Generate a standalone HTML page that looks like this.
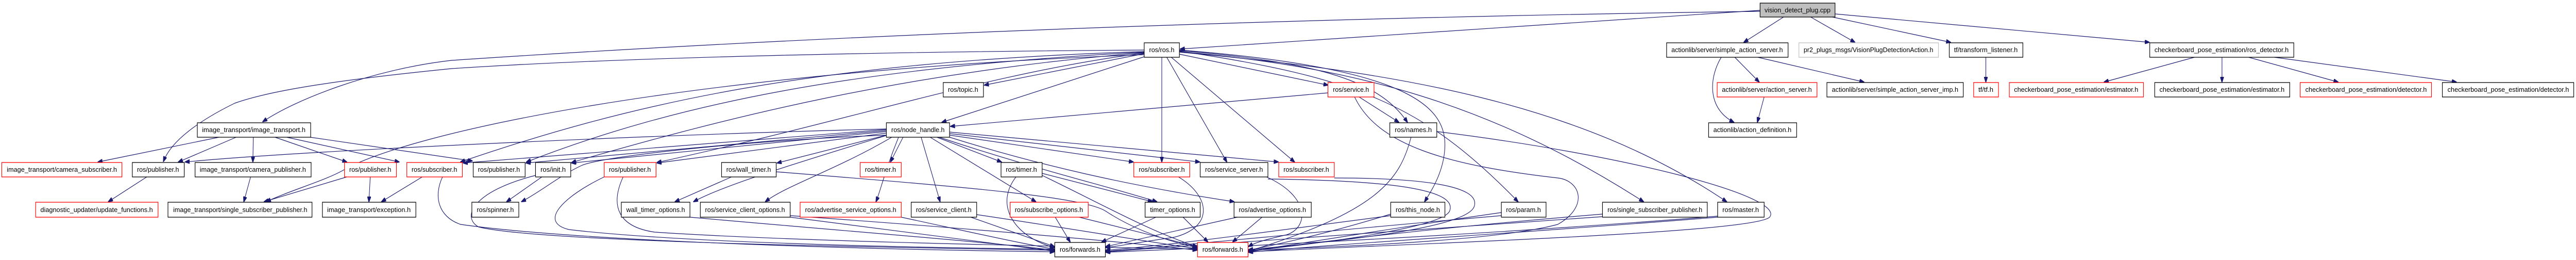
<!DOCTYPE html>
<html><head><meta charset="utf-8"><style>
html,body{margin:0;padding:0;background:#fff;width:100%;height:100%;overflow:hidden}
svg{display:block;position:absolute;left:0;top:0;width:100%;height:100%}
rect{fill:#fff;stroke:#000;stroke-width:1.3}
rect.r{stroke:#f00}
rect.g{fill:#bfbfbf}
rect.lg{stroke:#bfbfbf}
text{font-family:"Liberation Sans",sans-serif;font-size:13px;text-anchor:middle;fill:#000}
path{fill:none;stroke:#191970;stroke-width:1.2}
</style></head><body>
<svg width="100%" height="100%" viewBox="0 0 5705 504" preserveAspectRatio="none" xmlns="http://www.w3.org/2000/svg">
<defs><marker id="a" markerUnits="userSpaceOnUse" markerWidth="11" markerHeight="8" refX="10" refY="4" orient="auto"><path d="M0,0 L11,4 L0,8 z" style="fill:#191970;stroke:#191970"/></marker></defs>
<g marker-end="url(#a)">
<path d="M3898,20 L2614,95"/>
<path d="M3898,22 C2800,35 1800,70 1000,117 C820,135 650,195 582,236"/>
<path d="M3950,33 L3862,82"/>
<path d="M4010,33 L4108,82"/>
<path d="M4058,33 L4320,82"/>
<path d="M4064,27 L4760,82"/>
<path d="M3842,111 L3896,159"/>
<path d="M3812,111 C3785,150 3780,210 3840,237"/>
<path d="M3893,111 L4128,159"/>
<path d="M3907,188 L3892,237"/>
<path d="M4398,111 L4398,159"/>
<path d="M4860,111 L4660,159"/>
<path d="M4921,111 L4921,159"/>
<path d="M4980,111 L5178,159"/>
<path d="M5037,111 L5440,159"/>
<path d="M2534,104 L2180,165"/>
<path d="M2534,110 L2086,237"/>
<path d="M2612,105 L2941,165"/>
<path d="M2573,111 L2573,314"/>
<path d="M2584,111 L2717,314"/>
<path d="M2594,111 L2867,314"/>
<path d="M2612,98 C2900,120 3050,150 3117,237"/>
<path d="M2612,97 C3100,130 3200,200 3200,280 C3200,330 3170,370 3155,391"/>
<path d="M2612,99 C3000,150 3150,200 3362,391"/>
<path d="M2612,100 C3000,130 3300,200 3640,391"/>
<path d="M2612,101 C3100,140 3500,200 3824,391"/>
<path d="M2534,97 C2000,100 1400,110 1000,133 C750,155 600,175 520,200 C450,230 380,270 362,313"/>
<path d="M2534,100 C1800,120 1400,200 1020,314"/>
<path d="M2534,101 C1900,130 1500,200 1166,314"/>
<path d="M2534,102 C2000,140 1600,230 1266,315"/>
<path d="M2534,103 C2200,140 1900,230 1455,315"/>
<path d="M2534,106 C1500,140 900,260 760,330 C720,350 640,370 590,391"/>
<path d="M485,266 L217,314"/>
<path d="M523,266 L395,314"/>
<path d="M561,266 L560,314"/>
<path d="M609,266 L768,314"/>
<path d="M635,266 L884,314"/>
<path d="M687,266 L1046,312"/>
<path d="M325,343 L240,391"/>
<path d="M555,343 L540,391"/>
<path d="M768,343 L585,391"/>
<path d="M820,343 L817,391"/>
<path d="M935,343 L845,391"/>
<path d="M1200,343 L1122,391"/>
<path d="M1620,343 L1495,391"/>
<path d="M1963,250 C1500,260 700,290 410,314"/>
<path d="M1963,251 L1026,316"/>
<path d="M1963,253 L1165,316"/>
<path d="M1963,255 L1266,316"/>
<path d="M1963,258 L1455,316"/>
<path d="M1963,262 L1721,316"/>
<path d="M2000,266 L1972,314"/>
<path d="M2075,266 L2218,314"/>
<path d="M2103,262 L2510,314"/>
<path d="M2103,259 L2657,314"/>
<path d="M2103,256 L2831,314"/>
<path d="M2040,266 L2082,391"/>
<path d="M2060,266 L2294,391"/>
<path d="M2080,266 C2300,330 2450,360 2562,391"/>
<path d="M2103,266 C2300,320 2500,360 2733,391"/>
<path d="M1990,266 C1960,330 1950,370 1940,391"/>
<path d="M1975,266 C1850,330 1740,360 1695,391"/>
<path d="M1965,262 C1750,320 1600,360 1536,391"/>
<path d="M1963,262 C1700,270 1350,300 1290,320 C1240,340 1200,370 1155,391"/>
<path d="M1719,333 C2100,360 2400,380 2450,410 C2520,450 2600,470 2651,480"/>
<path d="M2308,336 L2552,391"/>
<path d="M2308,340 C2450,400 2550,450 2651,478"/>
<path d="M2250,343 C2200,400 2250,460 2335,480"/>
<path d="M2941,180 L2105,245"/>
<path d="M3010,188 L3098,237"/>
<path d="M1528,421 C1900,450 2200,470 2335,485"/>
<path d="M1750,421 C2000,450 2200,470 2335,487"/>
<path d="M1750,418 C2100,440 2450,465 2651,485"/>
<path d="M1996,421 C2150,450 2250,470 2335,483"/>
<path d="M2150,421 L2335,478"/>
<path d="M2163,416 C2350,440 2550,470 2651,482"/>
<path d="M2337,421 L2370,469"/>
<path d="M2390,421 L2651,478"/>
<path d="M2560,421 L2440,469"/>
<path d="M2620,421 L2675,469"/>
<path d="M2740,421 L2449,478"/>
<path d="M2795,421 L2730,469"/>
<path d="M2610,343 C2680,380 2690,440 2600,460 C2520,470 2470,478 2449,480"/>
<path d="M2805,343 C2900,380 2900,440 2850,455 C2800,465 2780,470 2765,478"/>
<path d="M3000,188 C3050,280 3200,320 3450,345 C3500,350 3520,400 3450,435 C3300,470 2900,480 2765,485"/>
<path d="M3125,266 C3100,350 3050,410 2765,487"/>
<path d="M3182,255 C3600,300 3950,380 3920,420 C3900,450 3200,470 2765,488"/>
<path d="M2955,345 C3150,345 3280,360 3265,400 C3250,440 3000,465 2765,484"/>
<path d="M2808,347 C3100,350 3230,370 3210,410 C3190,440 2950,470 2765,486"/>
<path d="M3080,415 C2950,450 2850,470 2765,485"/>
<path d="M3325,412 C3100,440 2900,470 2765,487"/>
<path d="M3549,415 C3200,440 2900,470 2765,488"/>
<path d="M3804,421 C3400,450 3000,470 2765,489"/>
<path d="M3080,418 C2800,450 2600,475 2449,485"/>
<path d="M3325,418 C2900,450 2600,478 2449,487"/>
<path d="M3549,420 C3000,455 2600,480 2449,488"/>
<path d="M3804,419 C3300,455 2700,480 2449,489"/>
<path d="M1186,340 C1050,370 1020,420 1060,440 C1200,470 2000,480 2335,485"/>
<path d="M980,343 C960,380 970,420 1020,435 C1300,470 2000,485 2335,488"/>
<path d="M1338,343 C1250,380 1190,430 1260,445 C1500,470 2000,480 2335,483"/>
<path d="M1380,343 C1350,400 1370,440 1450,450 C1800,470 2400,478 2651,483"/>
</g>
<rect class="g" x="3898" y="6" width="166" height="27"/><text x="3981" y="24" textLength="146" lengthAdjust="spacingAndGlyphs">vision_detect_plug.cpp</text>
<rect x="2534" y="83" width="78" height="28"/><text x="2573" y="101" textLength="56" lengthAdjust="spacingAndGlyphs">ros/ros.h</text>
<rect x="3691" y="83" width="269" height="28"/><text x="3825" y="101" textLength="247" lengthAdjust="spacingAndGlyphs">actionlib/server/simple_action_server.h</text>
<rect class="lg" x="3984" y="83" width="309" height="28"/><text x="4138" y="101" textLength="287" lengthAdjust="spacingAndGlyphs">pr2_plugs_msgs/VisionPlugDetectionAction.h</text>
<rect x="4317" y="83" width="163" height="28"/><text x="4398" y="101" textLength="141" lengthAdjust="spacingAndGlyphs">tf/transform_listener.h</text>
<rect x="4761" y="83" width="319" height="28"/><text x="4920" y="101" textLength="297" lengthAdjust="spacingAndGlyphs">checkerboard_pose_estimation/ros_detector.h</text>
<rect x="2089" y="160" width="89" height="28"/><text x="2133" y="178" textLength="67" lengthAdjust="spacingAndGlyphs">ros/topic.h</text>
<rect class="r" x="2941" y="160" width="102" height="28"/><text x="2992" y="178" textLength="80" lengthAdjust="spacingAndGlyphs">ros/service.h</text>
<rect class="r" x="3803" y="160" width="221" height="28"/><text x="3913" y="178" textLength="199" lengthAdjust="spacingAndGlyphs">actionlib/server/action_server.h</text>
<rect x="4046" y="160" width="302" height="28"/><text x="4197" y="178" textLength="280" lengthAdjust="spacingAndGlyphs">actionlib/server/simple_action_server_imp.h</text>
<rect class="r" x="4371" y="160" width="55" height="28"/><text x="4398" y="178" textLength="33" lengthAdjust="spacingAndGlyphs">tf/tf.h</text>
<rect class="r" x="4450" y="160" width="297" height="28"/><text x="4598" y="178" textLength="275" lengthAdjust="spacingAndGlyphs">checkerboard_pose_estimation/estimator.h</text>
<rect x="4772" y="160" width="299" height="28"/><text x="4921" y="178" textLength="277" lengthAdjust="spacingAndGlyphs">checkerboard_pose_estimation/estimator.h</text>
<rect class="r" x="5094" y="160" width="291" height="28"/><text x="5240" y="178" textLength="269" lengthAdjust="spacingAndGlyphs">checkerboard_pose_estimation/detector.h</text>
<rect x="5409" y="160" width="291" height="28"/><text x="5555" y="178" textLength="269" lengthAdjust="spacingAndGlyphs">checkerboard_pose_estimation/detector.h</text>
<rect x="437" y="238" width="251" height="28"/><text x="562" y="256" textLength="229" lengthAdjust="spacingAndGlyphs">image_transport/image_transport.h</text>
<rect x="1963" y="238" width="140" height="28"/><text x="2033" y="256" textLength="118" lengthAdjust="spacingAndGlyphs">ros/node_handle.h</text>
<rect x="3078" y="238" width="104" height="28"/><text x="3130" y="256" textLength="82" lengthAdjust="spacingAndGlyphs">ros/names.h</text>
<rect x="3784" y="238" width="195" height="28"/><text x="3881" y="256" textLength="173" lengthAdjust="spacingAndGlyphs">actionlib/action_definition.h</text>
<rect class="r" x="4" y="315" width="266" height="28"/><text x="137" y="333" textLength="244" lengthAdjust="spacingAndGlyphs">image_transport/camera_subscriber.h</text>
<rect x="293" y="315" width="115" height="28"/><text x="350" y="333" textLength="93" lengthAdjust="spacingAndGlyphs">ros/publisher.h</text>
<rect x="432" y="315" width="257" height="28"/><text x="560" y="333" textLength="235" lengthAdjust="spacingAndGlyphs">image_transport/camera_publisher.h</text>
<rect class="r" x="763" y="315" width="115" height="28"/><text x="820" y="333" textLength="93" lengthAdjust="spacingAndGlyphs">ros/publisher.h</text>
<rect class="r" x="901" y="315" width="123" height="28"/><text x="962" y="333" textLength="101" lengthAdjust="spacingAndGlyphs">ros/subscriber.h</text>
<rect x="1048" y="315" width="115" height="28"/><text x="1105" y="333" textLength="93" lengthAdjust="spacingAndGlyphs">ros/publisher.h</text>
<rect x="1186" y="315" width="78" height="28"/><text x="1225" y="333" textLength="56" lengthAdjust="spacingAndGlyphs">ros/init.h</text>
<rect class="r" x="1338" y="315" width="115" height="28"/><text x="1395" y="333" textLength="93" lengthAdjust="spacingAndGlyphs">ros/publisher.h</text>
<rect x="1598" y="315" width="121" height="28"/><text x="1658" y="333" textLength="99" lengthAdjust="spacingAndGlyphs">ros/wall_timer.h</text>
<rect class="r" x="1905" y="315" width="91" height="28"/><text x="1950" y="333" textLength="69" lengthAdjust="spacingAndGlyphs">ros/timer.h</text>
<rect x="2217" y="315" width="91" height="28"/><text x="2262" y="333" textLength="69" lengthAdjust="spacingAndGlyphs">ros/timer.h</text>
<rect class="r" x="2511" y="315" width="124" height="28"/><text x="2573" y="333" textLength="102" lengthAdjust="spacingAndGlyphs">ros/subscriber.h</text>
<rect x="2658" y="315" width="150" height="28"/><text x="2733" y="333" textLength="128" lengthAdjust="spacingAndGlyphs">ros/service_server.h</text>
<rect class="r" x="2832" y="315" width="123" height="28"/><text x="2893" y="333" textLength="101" lengthAdjust="spacingAndGlyphs">ros/subscriber.h</text>
<rect class="r" x="79" y="392" width="271" height="29"/><text x="214" y="411" textLength="249" lengthAdjust="spacingAndGlyphs">diagnostic_updater/update_functions.h</text>
<rect x="372" y="392" width="319" height="29"/><text x="532" y="411" textLength="297" lengthAdjust="spacingAndGlyphs">image_transport/single_subscriber_publisher.h</text>
<rect x="714" y="392" width="207" height="29"/><text x="817" y="411" textLength="185" lengthAdjust="spacingAndGlyphs">image_transport/exception.h</text>
<rect x="1045" y="392" width="104" height="29"/><text x="1097" y="411" textLength="82" lengthAdjust="spacingAndGlyphs">ros/spinner.h</text>
<rect x="1376" y="392" width="152" height="29"/><text x="1452" y="411" textLength="130" lengthAdjust="spacingAndGlyphs">wall_timer_options.h</text>
<rect x="1551" y="392" width="199" height="29"/><text x="1650" y="411" textLength="177" lengthAdjust="spacingAndGlyphs">ros/service_client_options.h</text>
<rect class="r" x="1772" y="392" width="224" height="29"/><text x="1884" y="411" textLength="202" lengthAdjust="spacingAndGlyphs">ros/advertise_service_options.h</text>
<rect x="2018" y="392" width="145" height="29"/><text x="2090" y="411" textLength="123" lengthAdjust="spacingAndGlyphs">ros/service_client.h</text>
<rect class="r" x="2237" y="392" width="173" height="29"/><text x="2323" y="411" textLength="151" lengthAdjust="spacingAndGlyphs">ros/subscribe_options.h</text>
<rect x="2536" y="392" width="122" height="29"/><text x="2597" y="411" textLength="100" lengthAdjust="spacingAndGlyphs">timer_options.h</text>
<rect x="2733" y="392" width="171" height="29"/><text x="2818" y="411" textLength="149" lengthAdjust="spacingAndGlyphs">ros/advertise_options.h</text>
<rect x="3080" y="392" width="120" height="29"/><text x="3140" y="411" textLength="98" lengthAdjust="spacingAndGlyphs">ros/this_node.h</text>
<rect x="3325" y="392" width="99" height="29"/><text x="3374" y="411" textLength="77" lengthAdjust="spacingAndGlyphs">ros/param.h</text>
<rect x="3549" y="392" width="232" height="29"/><text x="3665" y="411" textLength="210" lengthAdjust="spacingAndGlyphs">ros/single_subscriber_publisher.h</text>
<rect x="3804" y="392" width="103" height="29"/><text x="3855" y="411" textLength="81" lengthAdjust="spacingAndGlyphs">ros/master.h</text>
<rect x="2336" y="470" width="112" height="28"/><text x="2392" y="488" textLength="90" lengthAdjust="spacingAndGlyphs">ros/forwards.h</text>
<rect class="r" x="2652" y="470" width="112" height="28"/><text x="2708" y="488" textLength="90" lengthAdjust="spacingAndGlyphs">ros/forwards.h</text>
</svg>
</body></html>
